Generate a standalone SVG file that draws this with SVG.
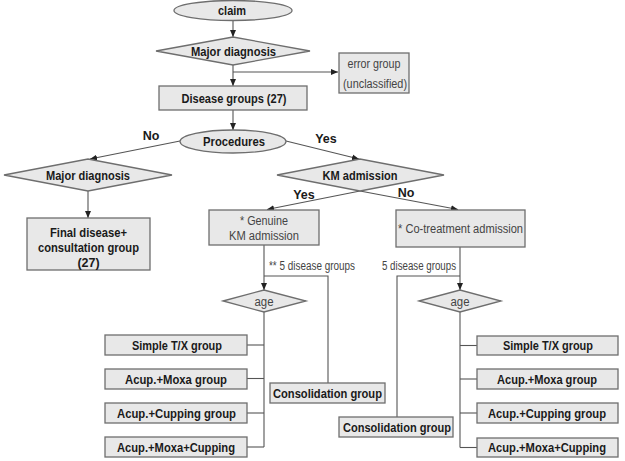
<svg xmlns="http://www.w3.org/2000/svg" width="625" height="461" viewBox="0 0 625 461">
<style>
.box{fill:#e8e8e8;stroke:#6e6e6e;stroke-width:1.3}
.b{font-family:"Liberation Sans",Arial,sans-serif;font-weight:bold;font-size:12.5px;fill:#1a1a1a;text-anchor:middle}
.n{font-family:"Liberation Sans",Arial,sans-serif;font-size:12.5px;fill:#444;text-anchor:middle}
.c{fill:none;stroke:#555;stroke-width:1.1}
</style>
<defs>
<marker id="ar" markerWidth="8" markerHeight="8" refX="7" refY="4" orient="auto" markerUnits="userSpaceOnUse">
<path d="M0,1 L7,4 L0,7 Z" fill="#222"/>
</marker>
</defs>
<rect width="625" height="461" fill="#fff"/>
<g id="connectors">
<line class="c" x1="233" y1="21" x2="233" y2="37" marker-end="url(#ar)"/>
<line class="c" x1="233" y1="65" x2="233" y2="86" marker-end="url(#ar)"/>
<line class="c" x1="233" y1="72" x2="338" y2="72" marker-end="url(#ar)"/>
<line class="c" x1="233" y1="110" x2="233" y2="130" marker-end="url(#ar)"/>
<line class="c" x1="180" y1="141" x2="90" y2="159" marker-end="url(#ar)"/>
<line class="c" x1="286" y1="141" x2="359" y2="159" marker-end="url(#ar)"/>
<line class="c" x1="88" y1="191" x2="88" y2="218" marker-end="url(#ar)"/>
<line class="c" x1="360" y1="191" x2="267" y2="209.5" marker-end="url(#ar)"/>
<line class="c" x1="360" y1="191" x2="458" y2="209.5" marker-end="url(#ar)"/>
<line class="c" x1="264" y1="245" x2="264" y2="290" marker-end="url(#ar)"/>
<polyline class="c" points="264,276 328,276 328,383"/>
<line class="c" x1="264" y1="312" x2="264" y2="447"/>
<line class="c" x1="247" y1="345" x2="264" y2="345"/>
<line class="c" x1="247" y1="378.5" x2="264" y2="378.5"/>
<line class="c" x1="247" y1="413" x2="264" y2="413"/>
<line class="c" x1="247" y1="447" x2="264" y2="447"/>
<line class="c" x1="460" y1="247" x2="460" y2="290" marker-end="url(#ar)"/>
<polyline class="c" points="460,276 397,276 397,417"/>
<line class="c" x1="460" y1="312" x2="460" y2="447.5"/>
<line class="c" x1="460" y1="345.5" x2="477" y2="345.5"/>
<line class="c" x1="460" y1="379" x2="477" y2="379"/>
<line class="c" x1="460" y1="413" x2="477" y2="413"/>
<line class="c" x1="460" y1="447.5" x2="477" y2="447.5"/>
<text class="b" x="151" y="140" font-size="11.5">No</text>
<text class="b" x="326" y="143" font-size="11.5">Yes</text>
<text class="b" x="304" y="199" font-size="11.5">Yes</text>
<text class="b" x="406" y="197" font-size="11.5">No</text>
<text class="n" x="269" y="270" style="text-anchor:start" font-size="11" textLength="86" lengthAdjust="spacingAndGlyphs">** 5 disease groups</text>
<text class="n" x="456" y="270" style="text-anchor:end" font-size="11" textLength="74" lengthAdjust="spacingAndGlyphs">5 disease groups</text>
</g>
<g id="claim">
<ellipse class="box" cx="233" cy="10.5" rx="59" ry="10"/>
<text class="b" x="232" y="15" textLength="28" lengthAdjust="spacingAndGlyphs">claim</text>
</g>
<g id="major-diagnosis-1">
<polygon class="box" points="156,51 233,37 310,51 233,65"/>
<text class="b" x="233.5" y="55.5" textLength="85" lengthAdjust="spacingAndGlyphs">Major diagnosis</text>
</g>
<g id="error-group">
<rect class="box" x="339" y="53" width="70" height="40"/>
<text class="n" x="374" y="67.5" textLength="53" lengthAdjust="spacingAndGlyphs">error group</text>
<text class="n" x="375" y="87.5" textLength="64" lengthAdjust="spacingAndGlyphs">(unclassified)</text>
</g>
<g id="disease-groups">
<rect class="box" x="159" y="86" width="148" height="24"/>
<text class="b" x="234" y="102.5" textLength="105" lengthAdjust="spacingAndGlyphs">Disease groups (27)</text>
</g>
<g id="procedures">
<ellipse class="box" cx="233" cy="141.5" rx="53" ry="11.5"/>
<text class="b" x="234" y="146" textLength="62" lengthAdjust="spacingAndGlyphs">Procedures</text>
</g>
<g id="major-diagnosis-2">
<polygon class="box" points="4,175 88,159 172,175 88,191"/>
<text class="b" x="88" y="179.5" textLength="84" lengthAdjust="spacingAndGlyphs">Major diagnosis</text>
</g>
<g id="final-disease">
<rect class="box" x="27" y="218" width="123" height="52"/>
<text class="b" x="88.5" y="236.5" textLength="77" lengthAdjust="spacingAndGlyphs">Final disease+</text>
<text class="b" x="88.5" y="251.5" textLength="101" lengthAdjust="spacingAndGlyphs">consultation group</text>
<text class="b" x="88.5" y="266.5">(27)</text>
</g>
<g id="km-admission">
<polygon class="box" points="277,175 360,159 444,175 360,191"/>
<text class="b" x="360" y="180" textLength="75" lengthAdjust="spacingAndGlyphs">KM admission</text>
</g>
<g id="genuine-km">
<rect class="box" x="209" y="210" width="110" height="35"/>
<text class="n" x="264" y="224.5" textLength="48" lengthAdjust="spacingAndGlyphs">* Genuine</text>
<text class="n" x="264" y="239.5" textLength="70" lengthAdjust="spacingAndGlyphs">KM admission</text>
</g>
<g id="co-treatment">
<rect class="box" x="396" y="210" width="129" height="37"/>
<text class="n" x="460.5" y="233" textLength="125" lengthAdjust="spacingAndGlyphs">* Co-treatment admission</text>
</g>
<g id="age-1">
<polygon class="box" points="223,301 264,290 306,301 264,312"/>
<text class="n" x="264" y="305.5" textLength="19" lengthAdjust="spacingAndGlyphs">age</text>
</g>
<g id="age-2">
<polygon class="box" points="419,301 460,290 501,301 460,312"/>
<text class="n" x="460" y="305.5" textLength="19" lengthAdjust="spacingAndGlyphs">age</text>
</g>
<g id="simple-tx-1">
<rect class="box" x="105" y="335" width="142" height="20"/>
<text class="b" x="177" y="349.5" textLength="90" lengthAdjust="spacingAndGlyphs">Simple  T/X group</text>
</g>
<g id="acup-moxa-1">
<rect class="box" x="105" y="369" width="142" height="20"/>
<text class="b" x="176" y="383.5" textLength="102" lengthAdjust="spacingAndGlyphs">Acup.+Moxa group</text>
</g>
<g id="acup-cupping-1">
<rect class="box" x="105" y="403" width="142" height="20"/>
<text class="b" x="176.5" y="417.5" textLength="119" lengthAdjust="spacingAndGlyphs">Acup.+Cupping group</text>
</g>
<g id="acup-moxa-cupping-1">
<rect class="box" x="105" y="437" width="142" height="20"/>
<text class="b" x="176" y="451.5" textLength="118" lengthAdjust="spacingAndGlyphs">Acup.+Moxa+Cupping</text>
</g>
<g id="consolidation-1">
<rect class="box" x="270" y="383" width="115" height="20"/>
<text class="b" x="327.5" y="397.5" textLength="109" lengthAdjust="spacingAndGlyphs">Consolidation group</text>
</g>
<g id="simple-tx-2">
<rect class="box" x="477" y="336" width="141" height="19"/>
<text class="b" x="548" y="350" textLength="90" lengthAdjust="spacingAndGlyphs">Simple  T/X group</text>
</g>
<g id="acup-moxa-2">
<rect class="box" x="477" y="369" width="141" height="20"/>
<text class="b" x="547" y="383.5" textLength="100" lengthAdjust="spacingAndGlyphs">Acup.+Moxa group</text>
</g>
<g id="acup-cupping-2">
<rect class="box" x="477" y="403" width="141" height="20"/>
<text class="b" x="547" y="417.5" textLength="118" lengthAdjust="spacingAndGlyphs">Acup.+Cupping group</text>
</g>
<g id="acup-moxa-cupping-2">
<rect class="box" x="477" y="438" width="141" height="19"/>
<text class="b" x="547" y="452" textLength="118" lengthAdjust="spacingAndGlyphs">Acup.+Moxa+Cupping</text>
</g>
<g id="consolidation-2">
<rect class="box" x="339" y="417" width="114" height="20"/>
<text class="b" x="397" y="431.5" textLength="108" lengthAdjust="spacingAndGlyphs">Consolidation group</text>
</g>
</svg>
